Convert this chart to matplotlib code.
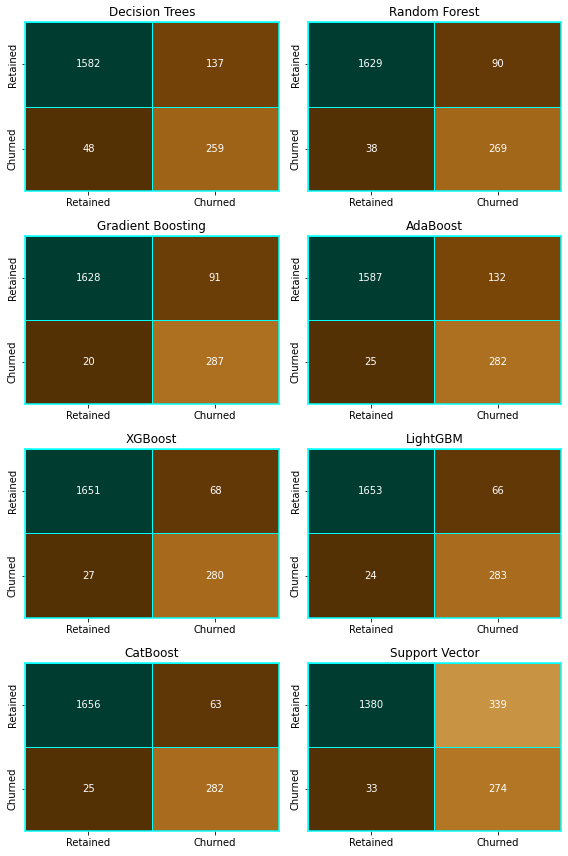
import matplotlib
matplotlib.use("Agg")
import matplotlib.pyplot as plt
import seaborn as sns
import numpy as np

models = ["Decision Trees", "Random Forest", "Gradient Boosting", "AdaBoost",
          "XGBoost", "LightGBM", "CatBoost", "Support Vector"]
labels = ["Retained", "Churned"]
dt = [[1582, 137], [48, 259]]
rf = [[1629, 90], [38, 269]]
gb = [[1628, 91], [20, 287]]
ada = [[1587, 132], [25, 282]]
xgb = [[1651, 68], [27, 280]]
lgbm = [[1653, 66], [24, 283]]
cat = [[1656, 63], [25, 282]]
svc = [[1380, 339], [33, 274]]
matrices = [dt, rf, gb, ada, xgb, lgbm, cat, svc]

fig, axes = plt.subplots(4, 2, figsize=(568/72, 856/72), dpi=72)
for ax, name, m in zip(axes.flat, models, matrices):
    sns.heatmap(np.array(m), annot=True, fmt="d", cmap="BrBG", cbar=False,
                linewidths=1, linecolor="cyan", ax=ax,
                xticklabels=labels, yticklabels=labels,
                annot_kws={"fontsize": 10})
    ax.set_title(name, fontsize=12)
    ax.tick_params(axis="both", labelsize=10, length=3.5, width=0.8)
    ax.set_yticklabels(labels, rotation=90, va="center")
    ax.set_xticklabels(labels, rotation=0)
    for s in ax.spines.values():
        s.set_visible(True)
        s.set_color("cyan")
        s.set_linewidth(1.5)

fig.subplots_adjust(left=0.044, right=0.988, top=0.974, bottom=0.029,
                    wspace=0.115, hspace=0.266)
fig.savefig("out.png", dpi=72)
